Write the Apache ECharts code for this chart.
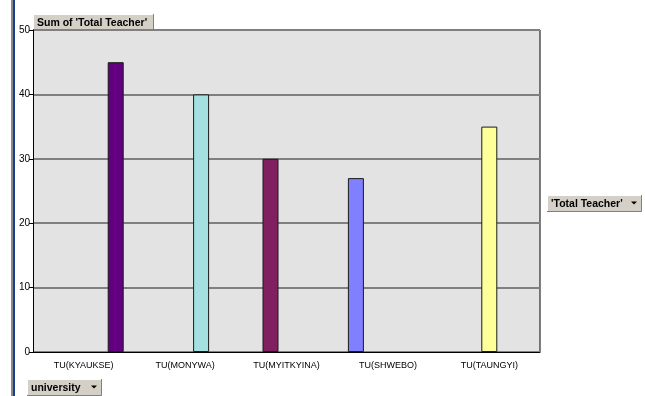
<!DOCTYPE html>
<html>
<head>
<meta charset="utf-8">
<script src="https://cdn.jsdelivr.net/npm/echarts@6/dist/echarts.min.js"></script>
<style>
  html, body { margin: 0; padding: 0; background: #fff; }
  #chart { width: 645px; height: 396px; }
</style>
</head>
<body>
<div id="chart"></div>
<script>
// data
var universities = ['TU(KYAUKSE)', 'TU(MONYWA)', 'TU(MYITKYINA)', 'TU(SHWEBO)', 'TU(TAUNGYI)'];
var totalTeacher = [45, 40, 30, 27, 35];
// series order as it sits in each cluster (left to right)
var seriesOrder = ['TU(SHWEBO)', 'TU(MYITKYINA)', 'TU(TAUNGYI)', 'TU(MONYWA)', 'TU(KYAUKSE)'];
var barColors = {
    'TU(KYAUKSE)': '#62007f',
    'TU(MONYWA)': '#a4e0e0',
    'TU(MYITKYINA)': '#802060',
    'TU(SHWEBO)': '#8080ff',
    'TU(TAUNGYI)': '#ffff99'
};
var yTicks = [0, 10, 20, 30, 40, 50];

var myChart = echarts.init(document.getElementById('chart'));

var series = seriesOrder.map(function (name) {
    var idx = universities.indexOf(name);
    var data = universities.map(function (u, i) { return i === idx ? totalTeacher[i] : null; });
    return {
        name: name,
        type: 'bar',
        barWidth: 16,
        barGap: '0%',
        data: data,
        itemStyle: { color: barColors[name], borderColor: '#1a1a1a', borderWidth: 1 }
    };
});

// excel style field button
function button(x, y, w, h, text, arrow) {
    var kids = [
        { type: 'rect', shape: { x: 0, y: 0, width: w, height: h },
          style: { fill: '#d4d0c8', stroke: null } },
        { type: 'polyline', shape: { points: [[0.5, h], [0.5, 0.5], [w, 0.5]] },
          style: { stroke: '#ffffff', lineWidth: 1, fill: null } },
        { type: 'polyline', shape: { points: [[0, h - 0.5], [w - 0.5, h - 0.5], [w - 0.5, 0]] },
          style: { stroke: '#808080', lineWidth: 1, fill: null } },
        { type: 'text', style: { x: 4, y: h / 2 + 1, text: text, fill: '#000',
          font: 'bold 10.5px Arial, "Liberation Sans", sans-serif', verticalAlign: 'middle' } }
    ];
    if (arrow) {
        kids.push({ type: 'polygon', shape: { points: [[w - 11, h / 2 - 2], [w - 5, h / 2 - 2], [w - 8, h / 2 + 1]] },
                    style: { fill: '#000' } });
    }
    return { type: 'group', x: x, y: y, children: kids };
}

myChart.setOption({
    animation: false,
    backgroundColor: '#fff',
    grid: { left: 33, right: 105, top: 30, bottom: 44, show: true, backgroundColor: '#e3e3e3', borderWidth: 0 },
    xAxis: {
        type: 'category',
        data: universities,
        axisLine: { lineStyle: { color: '#000', width: 1 } },
        axisTick: { length: 5, lineStyle: { color: '#000' } },
        axisLabel: { color: '#000', fontSize: 9, fontFamily: 'Arial, "Liberation Sans", sans-serif', margin: 9 }
    },
    yAxis: {
        type: 'value',
        min: yTicks[0],
        max: yTicks[yTicks.length - 1],
        interval: 10,
        axisLine: { show: true, lineStyle: { color: '#000', width: 1 } },
        axisTick: { show: true, length: 4, lineStyle: { color: '#000' } },
        axisLabel: { color: '#000', fontSize: 10, fontFamily: 'Arial, "Liberation Sans", sans-serif', margin: 3 },
        splitLine: { lineStyle: { color: '#808080', width: 2 } }
    },
    series: series,
    graphic: [
        { type: 'rect', shape: { x: 11, y: 0, width: 2, height: 396 }, style: { fill: '#8a8a8a' } },
        { type: 'rect', shape: { x: 13, y: 0, width: 2, height: 396 }, style: { fill: '#1c3c8c' } },
        { type: 'line', shape: { x1: 540, y1: 30, x2: 540, y2: 352 }, style: { stroke: '#000', lineWidth: 1 } },
        button(33, 14, 121, 17, "Sum of 'Total Teacher'", false),
        button(547, 195, 95, 17, "'Total Teacher'", true),
        button(27, 379, 75, 17, 'university', true)
    ]
});
</script>
</body>
</html>
